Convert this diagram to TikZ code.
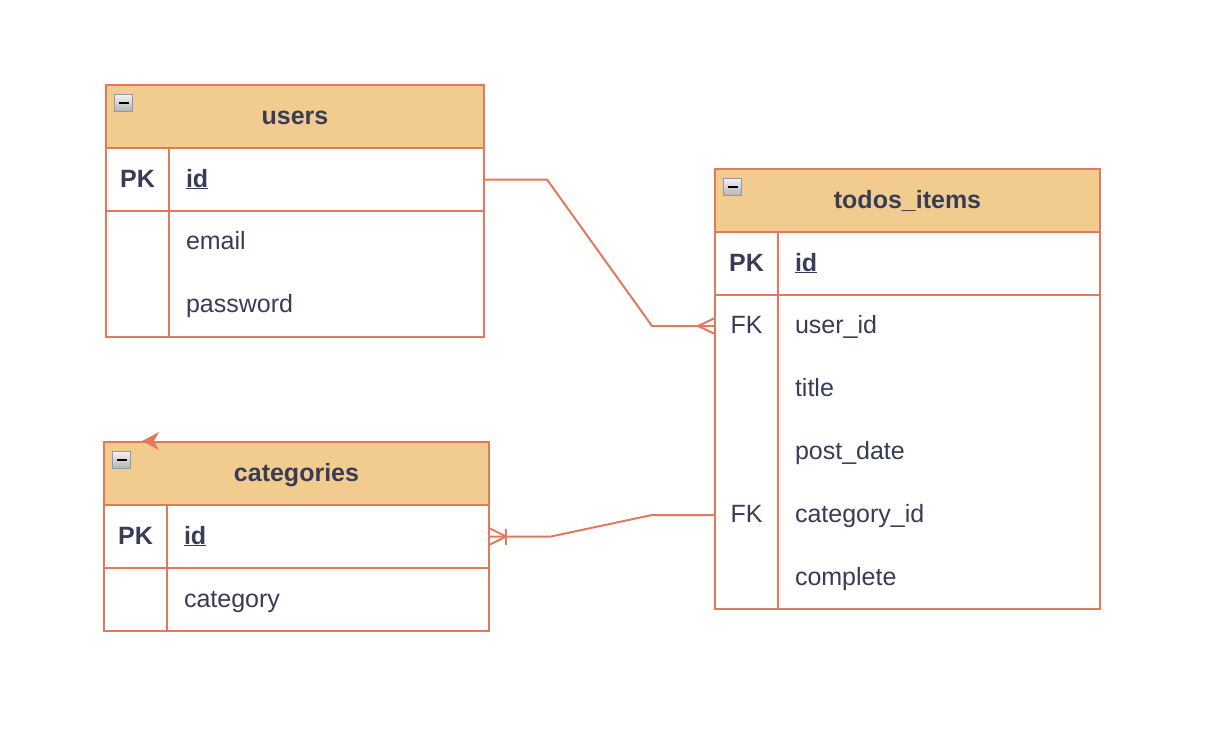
\documentclass[tikz,border=0pt]{standalone}
\usepackage{fontspec}
\setmainfont{Liberation Sans}
\definecolor{erline}{HTML}{E07A5F}
\definecolor{erhead}{HTML}{F2CC8F}
\definecolor{erink}{HTML}{393C56}
\definecolor{iconedge}{HTML}{8C9AB0}

\begin{document}
\begin{tikzpicture}[x=1pt, y=-1pt, line width=2pt,
  every node/.style={text=erink, inner sep=0pt, font=\fontsize{25}{30}\selectfont, text height=20pt, text depth=5pt},
  hdr/.style={draw=erline, fill=erhead, minimum height=63pt, font=\bfseries\fontsize{25}{30}\selectfont},
  cell/.style={draw=erline, fill=white},
  key/.style={cell, minimum width=63pt},
  keytxt/.style={font=\bfseries\fontsize{25}{30}\selectfont},
  field/.style={anchor=west},
  rel/.style={draw=erline},
  icon/.style={draw=iconedge, line width=1.5pt, top color=gray!10, bottom color=gray!60, minimum width=18pt, minimum height=17pt, text height=, text depth=}]
  \useasboundingbox (0,0) rectangle (1227,734);

  % users
  \node[hdr, minimum width=378pt] (users) at (295,116.5) {users};
  \node[icon] (users-icon) at (123.5,103) {};
  \draw[black, line width=1.8pt] (users-icon.center) +(-5,0) -- +(5,0);
  \node[key, minimum height=63pt, keytxt] (users-pk) at (137.5,179.5) {PK};
  \node[cell, minimum width=315pt, minimum height=63pt] (users-idrow) at (326.5,179.5) {};
  \node[field, keytxt] (users-id) at (185,179.5) {\underline{id}};
  \node[key, minimum height=126pt] (users-key) at (137.5,274) {};
  \node[cell, minimum width=315pt, minimum height=126pt] (users-body) at (326.5,274) {};
  \node[field] (users-email) at (185,242) {email};
  \node[field] (users-password) at (185,305) {password};

  % categories
  \node[hdr, minimum width=385pt] (cats) at (296.5,473.5) {categories};
  \node[icon] (cats-icon) at (121.5,460) {};
  \draw[black, line width=1.8pt] (cats-icon.center) +(-5,0) -- +(5,0);
  \node[key, minimum height=63pt, keytxt] (cats-pk) at (135.5,536.5) {PK};
  \node[cell, minimum width=322pt, minimum height=63pt] (cats-idrow) at (328,536.5) {};
  \node[field, keytxt] (cats-id) at (183,536.5) {\underline{id}};
  \node[key, minimum height=63pt] (cats-key) at (135.5,599.5) {};
  \node[cell, minimum width=322pt, minimum height=63pt] (cats-body) at (328,599.5) {};
  \node[field] (cats-category) at (183,599.5) {category};

  % todos_items
  \node[hdr, minimum width=385pt] (todos) at (907.5,200.5) {todos\_items};
  \node[icon] (todos-icon) at (732.5,187) {};
  \draw[black, line width=1.8pt] (todos-icon.center) +(-5,0) -- +(5,0);
  \node[key, minimum height=63pt, keytxt] (todos-pk) at (746.5,263.5) {PK};
  \node[cell, minimum width=322pt, minimum height=63pt] (todos-idrow) at (939,263.5) {};
  \node[field, keytxt] (todos-id) at (794,263.5) {\underline{id}};
  \node[key, minimum height=314pt] (todos-key) at (746.5,452) {};
  \node[cell, minimum width=322pt, minimum height=314pt] (todos-body) at (939,452) {};
  \node (todos-fk1) at (746.5,326) {FK};
  \node (todos-fk2) at (746.5,515) {FK};
  \node[field] (todos-userid) at (794,326) {user\_id};
  \node[field] (todos-title) at (794,389) {title};
  \node[field] (todos-postdate) at (794,452) {post\_date};
  \node[field] (todos-categoryid) at (794,515) {category\_id};
  \node[field] (todos-complete) at (794,578) {complete};

  % relations
  \coordinate (fk-user) at (todos-key.west |- todos-userid.west);
  \coordinate (fk-cat) at (todos-key.west |- todos-categoryid.west);
  \draw[rel] (users-idrow.east) -- (547,179.5) -- (652,326) -- (fk-user);
  \draw[rel] (fk-user) ++(0,-7.5) -- ++(-16,7.5) -- ++(16,7.5);
  \draw[rel] (fk-cat) -- (652,515) -- (551,536.5) -- (cats-idrow.east);
  \draw[rel] (cats-idrow.east) ++(0,-8) -- ++(16,8) -- ++(-16,8);
  \draw[rel] (cats-idrow.east) ++(16,-8) -- ++(0,16);

  \fill[erline] (142,441) -- (159,432) -- (154,441) -- (159,450) -- cycle;
\end{tikzpicture}
\end{document}
